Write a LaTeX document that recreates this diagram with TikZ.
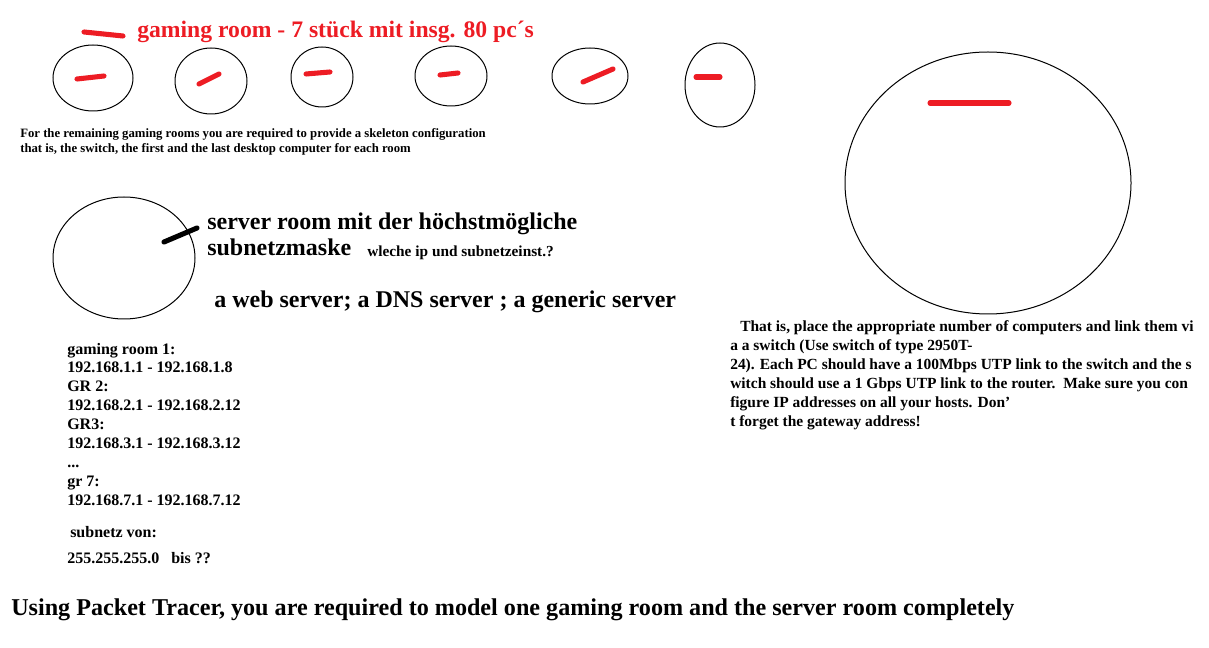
\documentclass[tikz,border=0pt]{standalone}
\usepackage{fontspec}
\setmainfont{Liberation Serif}
\usetikzlibrary{positioning}
\definecolor{paintred}{RGB}{237,28,36}

\begin{document}
\begin{tikzpicture}[x=0.75pt, y=-0.75pt,
    room/.style={line width=0.75pt},
    redmark/.style={paintred, line width=3.8pt, line cap=round},
    txt/.style={inner sep=0pt, anchor=base west},
    bigtxt/.style={txt, font=\fontsize{18.1}{22}\selectfont\bfseries},
    midtxt/.style={txt, font=\fontsize{18}{22}\selectfont\bfseries},
    normtxt/.style={txt, font=\fontsize{12}{14}\selectfont\bfseries},
    smalltxt/.style={txt, font=\fontsize{9.55}{11}\selectfont\bfseries}]
    \useasboundingbox (0,0) rectangle (1209,648);

    % gaming rooms
    \node[bigtxt, paintred, font=\fontsize{17.75}{22}\selectfont\bfseries] (title) at (137,38) {gaming room - 7 stück mit insg. 80 pc´s};
    \draw[redmark] (84,32) -- (123,36);
    \foreach \cx/\cy/\rx/\ry in {93/78/40/33, 211/81/36/33, 322/77/31/30, 451/76/36/30, 590/76/38/28, 720/85/35/42}
        \draw[room] (\cx,\cy) ellipse [x radius=\rx, y radius=\ry];
    \foreach \ax/\ay/\bx/\by in {77/79/104/76, 199/84/219/74, 306/74/330/72, 440/75/458/73, 583/82/613/69, 696/77/720/77}
        \draw[redmark] (\ax,\ay) -- (\bx,\by);
    \node[smalltxt] (skel1) at (20,138) {For the remaining gaming rooms you are required to provide a skeleton configuration};
    \node[smalltxt] (skel2) at (20,153) {that is, the switch, the first and the last desktop computer for each room};

    % server room
    \draw[room] (124,258) ellipse [x radius=71, y radius=61];
    \draw[black, line width=3.8pt, line cap=round] (164,242) -- (197,228);
    \node[midtxt] (srv1) at (207,230) {server room mit der höchstmögliche};
    \node[midtxt] (srv2) at (207,256) {subnetzmaske};
    \node[smalltxt, font=\fontsize{11.5}{13}\selectfont\bfseries] (ask) at (367,257) {wleche ip und subnetzeinst.?};
    \node[midtxt] (servers) at (214,308) {a web server; a DNS server ; a generic server};

    % big room
    \draw[room] (988,183) ellipse [x radius=143, y radius=131];
    \draw[redmark] (930,103) -- (1009,103);
    \node[normtxt, font=\fontsize{11.6}{14}\selectfont\bfseries] (task1) at (740,331) {That is, place the appropriate number of computers and link them vi};
    \foreach \t [count=\i from 2] in {{a a switch (Use switch of type 2950T-}, {24). Each PC should have a 100Mbps UTP link to the switch and the s}, {witch should use a 1 Gbps UTP link to the router.\ \ Make sure you con}, {figure IP addresses on all your hosts. Don’}, {t forget the gateway address!}}
        \node[normtxt, font=\fontsize{11.6}{14}\selectfont\bfseries] (task\i) at (730,{331+19*(\i-1)}) {\t};

    % address list
    \foreach \t [count=\i] in {{gaming room 1:}, {192.168.1.1 - 192.168.1.8}, {GR 2:}, {192.168.2.1 - 192.168.2.12}, {GR3:}, {192.168.3.1 - 192.168.3.12}, {.{}.{}.}, {gr 7:}, {192.168.7.1 - 192.168.7.12}}
        \node[normtxt] (ip\i) at (67,{354+18.9*(\i-1)}) {\t};
    \node[normtxt] (mask1) at (70,537) {subnetz von:};
    \node[normtxt] (mask2) at (67,563) {255.255.255.0\ \ \ bis ??};

    \node[bigtxt] (bottom) at (11,615) {Using Packet Tracer, you are required to model one gaming room and the server room completely};
\end{tikzpicture}
\end{document}
